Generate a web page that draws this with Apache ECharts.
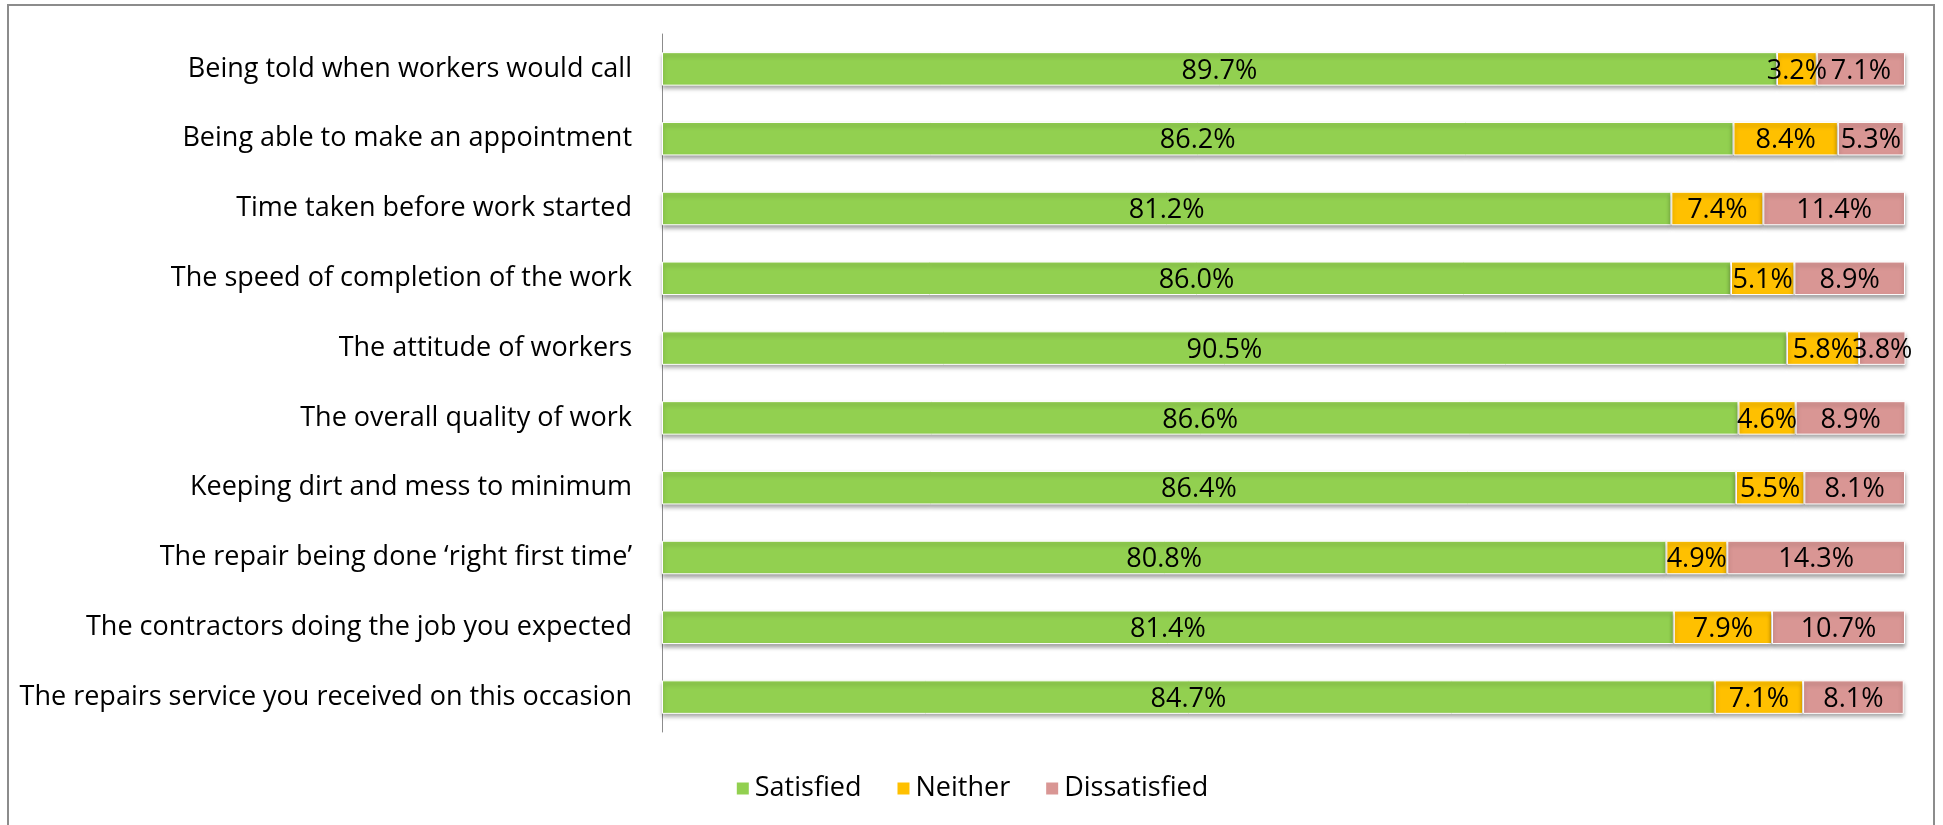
<!DOCTYPE html>
<html>
<head>
<meta charset="utf-8">
<script src="https://cdn.jsdelivr.net/npm/echarts@6/dist/echarts.min.js"></script>
<style>
html,body{margin:0;padding:0;background:#fff;}
#main{width:1943px;height:825px;}
</style>
</head>
<body>
<div id="main"></div>
<script>
const categories = [
  "Being told when workers would call",
  "Being able to make an appointment",
  "Time taken before work started",
  "The speed of completion of the work",
  "The attitude of workers",
  "The overall quality of work",
  "Keeping dirt and mess to minimum",
  "The repair being done \u2018right first time\u2019",
  "The contractors doing the job you expected",
  "The repairs service you received on this occasion"
];
const satisfied    = [89.7, 86.2, 81.2, 86.0, 90.5, 86.6, 86.4, 80.8, 81.4, 84.7];
const neither      = [3.2, 8.4, 7.4, 5.1, 5.8, 4.6, 5.5, 4.9, 7.9, 7.1];
const dissatisfied = [7.1, 5.3, 11.4, 8.9, 3.8, 8.9, 8.1, 14.3, 10.7, 8.1];
const seriesNames = ["Satisfied", "Neither", "Dissatisfied"];
const colors = ["#92D050", "#FFC000", "#D99694"];

const FONT = "Open Sans";
const FS = 27;
const chart = echarts.init(document.getElementById('main'));

function mk(name, data, color) {
  return {
    name: name,
    type: 'bar',
    stack: 'total',
    barCategoryGap: '52%',
    data: data,
    itemStyle: {
      color: color,
      borderColor: '#ffffff',
      borderWidth: 1,
      shadowColor: 'rgba(0,0,0,0.35)',
      shadowBlur: 4,
      shadowOffsetY: 3
    },
    label: {
      show: true,
      position: 'inside',
      offset: [0, 2],
      color: '#000',
      fontFamily: FONT,
      fontSize: FS,
      formatter: p => p.value.toFixed(1) + '%'
    },
    emphasis: { disabled: true }
  };
}

chart.setOption({
  animation: false,
  backgroundColor: '#fff',
  graphic: [{
    type: 'rect',
    shape: { x: 8, y: 5, width: 1926, height: 840 },
    style: { fill: 'none', stroke: '#8c8c8c', lineWidth: 2 },
    silent: true,
    z: 100
  }],
  grid: { left: 662, top: 34, width: 1243, height: 698, containLabel: false },
  legend: {
    data: seriesNames,
    left: 'center',
    top: 770,
    itemWidth: 14,
    itemHeight: 14,
    itemGap: 34,
    icon: 'rect',
    textStyle: { fontFamily: FONT, fontSize: FS, color: '#000' }
  },
  xAxis: {
    type: 'value',
    min: 0,
    max: 100,
    show: false
  },
  yAxis: {
    type: 'category',
    inverse: true,
    data: categories,
    axisLine: { show: true, lineStyle: { color: '#8c8c8c', width: 1 } },
    axisTick: { show: false },
    axisLabel: { margin: 30, color: '#000', fontFamily: FONT, fontSize: FS, padding: [6, 0, 0, 0] }
  },
  series: [
    mk(seriesNames[0], satisfied, colors[0]),
    mk(seriesNames[1], neither, colors[1]),
    mk(seriesNames[2], dissatisfied, colors[2])
  ]
});
</script>
</body>
</html>
